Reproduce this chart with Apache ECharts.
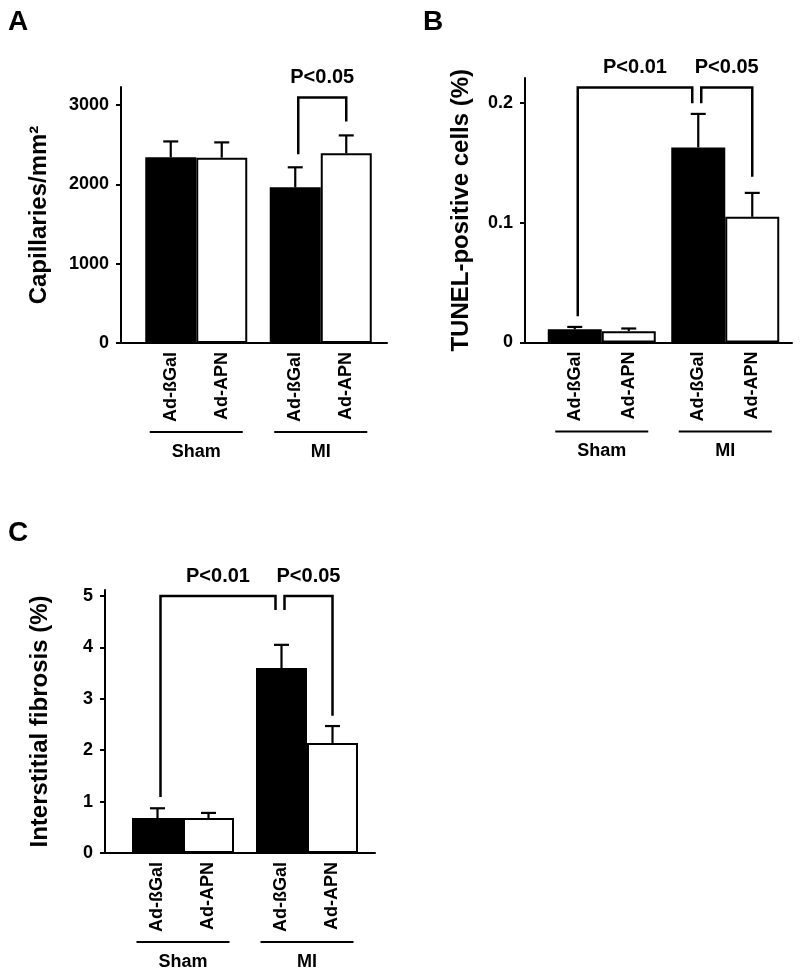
<!DOCTYPE html>
<html><head><meta charset="utf-8">
<script src="https://cdn.jsdelivr.net/npm/echarts@6/dist/echarts.min.js"></script>
<style>html,body{margin:0;padding:0;background:#fff}#c{width:800px;height:974px}</style>
</head><body><div id="c"></div>
<script>
// ---------------- DATA ----------------
const groups = ['Sham', 'MI'];
const treatments = ['Ad-ßGal', 'Ad-APN'];

// Panel A: capillary density (Capillaries/mm2)
const capBgal = [2340, 1962];
const capApn = [2335, 2390];
const capBgalSem = [200, 252];
const capApnSem = [193, 226];
const capTicks = [0, 1000, 2000, 3000];
// brackets: [fromBar, toBar, topValue, fromLegEndValue, toLegEndValue, label]
const capBrackets = [[2, 3, 3094, 2377, 2792, 'P<0.05']];

// Panel B: TUNEL-positive cells (%)
const tunelBgal = [0.011, 0.163];
const tunelApn = [0.0095, 0.105];
const tunelBgalSem = [0.002, 0.028];
const tunelApnSem = [0.0022, 0.020];
const tunelTicks = [0, 0.1, 0.2];
const tunelBrackets = [[0, 2, 0.213, 0.022, 0.2, 'P<0.01'], [2, 3, 0.213, 0.2, 0.1385, 'P<0.05']];

// Panel C: interstitial fibrosis (%)
const fibBgal = [0.68, 3.6];
const fibApn = [0.68, 2.14];
const fibBgalSem = [0.19, 0.45];
const fibApnSem = [0.10, 0.33];
const fibTicks = [0, 1, 2, 3, 4, 5];
const fibBrackets = [[0, 2, 5.0, 1.09, 4.73, 'P<0.01'], [2, 3, 5.0, 4.73, 2.67, 'P<0.05']];

// ---------------- LAYOUT ----------------
const FONT = '"Liberation Sans", Arial, Helvetica, sans-serif';
const panels = [
  { letter: 'A', letterPos: [18, 22], title: 'Capillaries/mm²', ticks: capTicks, max: 3226,
    bgal: capBgal, apn: capApn, bgalSem: capBgalSem, apnSem: capApnSem, brackets: capBrackets,
    axisGrid: { left: 121, right: 413, top: 87, bottom: 631 },
    barGrid: { left: 134, right: 417, top: 87, bottom: 631 }, barWidth: 51, nameGap: 70 },
  { letter: 'B', letterPos: [433, 22], title: 'TUNEL-positive cells (%)', ticks: tunelTicks, max: 0.221,
    bgal: tunelBgal, apn: tunelApn, bgalSem: tunelBgalSem, apnSem: tunelApnSem, brackets: tunelBrackets,
    axisGrid: { left: 525, right: 8, top: 78, bottom: 631.5 },
    barGrid: { left: 540, right: 13, top: 78, bottom: 631.5 }, barWidth: 54, nameGap: 52 },
  { letter: 'C', letterPos: [18, 533], title: 'Interstitial fibrosis (%)', ticks: fibTicks, max: 5.117,
    bgal: fibBgal, apn: fibApn, bgalSem: fibBgalSem, apnSem: fibApnSem, brackets: fibBrackets,
    axisGrid: { left: 105, right: 425, top: 590, bottom: 121 },
    barGrid: { left: 121, right: 431, top: 590, bottom: 121 }, barWidth: 51, nameGap: 53 }
];

const grid = [], xAxis = [], yAxis = [], series = [], graphic = [];

function errRender(bw) {
  return function (params, api) {
    const cat = api.value(0), side = api.value(1), mean = api.value(2), sem = api.value(3);
    const base = api.coord([cat, mean]);
    const top = api.coord([cat, mean + sem]);
    const x = base[0] + (side === 0 ? -bw / 2 : bw / 2);
    const cap = 7.5;
    return { type: 'group', children: [
      { type: 'line', shape: { x1: x, y1: base[1], x2: x, y2: top[1] }, style: { stroke: '#000', lineWidth: 2.2 } },
      { type: 'line', shape: { x1: x - cap, y1: top[1], x2: x + cap, y2: top[1] }, style: { stroke: '#000', lineWidth: 2.2 } }
    ] };
  };
}

function bracketRender(bw, list) {
  return function (params, api) {
    const b = list[params.dataIndex];
    const px = (bar, v) => {
      const p = api.coord([Math.floor(bar / 2), v]);
      return [p[0] + (bar % 2 === 0 ? -bw / 2 : bw / 2), p[1]];
    };
    const shared = list.some(o => o !== b && o[0] === b[1]);
    const f = px(b[0], b[3]); f[0] += 3;
    const t = px(b[1], b[4]); t[0] += shared ? -6 : 0;
    const topY = api.coord([0, b[2]])[1];
    return { type: 'group', children: [
      { type: 'polyline', shape: { points: [[f[0], f[1]], [f[0], topY], [t[0], topY], [t[0], t[1]]] },
        style: { stroke: '#000', lineWidth: 2.5, fill: null } },
      { type: 'text', x: (f[0] + t[0]) / 2, y: topY - 20,
        style: { text: b[5], fill: '#000', fontSize: 20, fontWeight: 'bold', fontFamily: FONT,
                 align: 'center', verticalAlign: 'middle' } }
    ] };
  };
}

panels.forEach((p, k) => {
  const gA = 2 * k, gB = 2 * k + 1;
  grid.push(p.axisGrid, p.barGrid);
  // visible axes grid
  xAxis.push({ gridIndex: gA, type: 'value', min: 0, max: 1,
    axisLine: { show: true, onZero: false, lineStyle: { color: '#000', width: 2 } },
    axisTick: { show: false }, axisLabel: { show: false }, splitLine: { show: false } });
  yAxis.push({ gridIndex: gA, type: 'value', min: 0, max: p.max,
    name: p.title, nameLocation: 'middle', nameRotate: 90, nameGap: p.nameGap,
    nameTextStyle: { fontSize: 24, fontWeight: 'bold', fontFamily: FONT, color: '#000' },
    axisLine: { show: true, lineStyle: { color: '#000', width: 2 } },
    axisTick: { show: true, length: 5, customValues: p.ticks, lineStyle: { color: '#000', width: 2 } },
    axisLabel: { customValues: p.ticks, margin: 12, fontSize: 18, fontWeight: 'bold', fontFamily: FONT, color: '#000',
      formatter: v => String(v) },
    splitLine: { show: false } });
  // bar grid
  xAxis.push({ gridIndex: gB, type: 'category', data: groups,
    axisLine: { show: false }, axisTick: { show: false }, splitLine: { show: false },
    axisLabel: { margin: 88, interval: 0,
      formatter: v => '{l|}\n{t|' + v + '}',
      rich: {
        l: { width: 93, height: 2, lineHeight: 2, backgroundColor: '#000' },
        t: { fontSize: 18, fontWeight: 'bold', fontFamily: FONT, color: '#000', lineHeight: 38 }
      } } });
  yAxis.push({ gridIndex: gB, type: 'value', min: 0, max: p.max, show: false });

  const lbl = name => ({ show: true, position: 'bottom', distance: 9, rotate: 90,
    align: 'right', verticalAlign: 'middle', formatter: name,
    fontSize: 18, fontWeight: 'bold', fontFamily: FONT, color: '#000' });

  series.push({ type: 'bar', name: treatments[0], xAxisIndex: k * 2 + 1, yAxisIndex: k * 2 + 1,
    data: p.bgal, barWidth: p.barWidth, barGap: '0%',
    itemStyle: { color: '#000' }, label: lbl(treatments[0]), silent: true });
  series.push({ type: 'bar', name: treatments[1], xAxisIndex: k * 2 + 1, yAxisIndex: k * 2 + 1,
    data: p.apn, barWidth: p.barWidth, barGap: '0%',
    itemStyle: { color: '#fff', borderColor: '#000', borderWidth: 2 }, label: lbl(treatments[1]), silent: true });

  const errData = [];
  groups.forEach((g, i) => {
    errData.push([i, 0, p.bgal[i], p.bgalSem[i]]);
    errData.push([i, 1, p.apn[i], p.apnSem[i]]);
  });
  series.push({ type: 'custom', xAxisIndex: k * 2 + 1, yAxisIndex: k * 2 + 1, data: errData,
    renderItem: errRender(p.barWidth), encode: { x: 0, y: 2 }, z: 5, silent: true });
  series.push({ type: 'custom', xAxisIndex: k * 2 + 1, yAxisIndex: k * 2 + 1,
    data: p.brackets.map(b => [Math.floor(b[0] / 2), b[2]]),
    renderItem: bracketRender(p.barWidth, p.brackets), encode: { x: 0, y: 1 }, clip: false, z: 6, silent: true });

  graphic.push({ type: 'text', x: p.letterPos[0], y: p.letterPos[1],
    style: { text: p.letter, fill: '#000', fontSize: 28, fontWeight: 'bold', fontFamily: FONT,
             align: 'center', verticalAlign: 'middle' } });
});

const chart = echarts.init(document.getElementById('c'), null, { renderer: 'canvas' });
chart.setOption({ animation: false, backgroundColor: '#fff', grid, xAxis, yAxis, series, graphic });
</script>
</body></html>
